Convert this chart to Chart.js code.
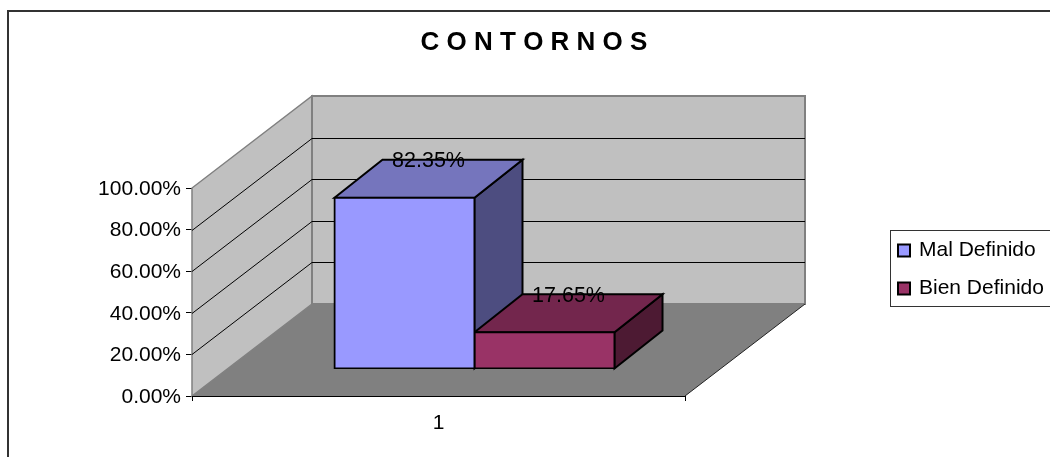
<!DOCTYPE html>
<html>
<head>
<meta charset="utf-8">
<title>Contornos</title>
<script src="https://cdn.jsdelivr.net/npm/chart.js@4/dist/chart.umd.min.js"></script>
<style>
html, body { margin: 0; padding: 0; background: #fff; }
#wrap { width: 1050px; height: 457px; }
</style>
</head>
<body>
<div id="wrap"><canvas id="chart" width="1050" height="457"></canvas></div>
<script>
var categories = ['1'];
var malDefinido = [82.35];
var bienDefinido = [17.65];
var yTicks = [0, 20, 40, 60, 80, 100];
var chartTitle = 'C O N T O R N O S';

var FONT = '"Liberation Sans", Arial, sans-serif';

// depth of the floor, and of one bar, in pixels
var floorDepth = { x: 120, y: -92 };
var barDepth = { x: 48, y: -38 };
// how far the bar fronts stand back from the front of the floor
var barShift = { x: 36, y: -27 };

function poly(ctx, pts, fill, stroke, lw) {
    ctx.beginPath();
    ctx.moveTo(pts[0][0], pts[0][1]);
    for (var i = 1; i < pts.length; i++) ctx.lineTo(pts[i][0], pts[i][1]);
    ctx.closePath();
    if (fill) { ctx.fillStyle = fill; ctx.fill(); }
    if (stroke) { ctx.strokeStyle = stroke; ctx.lineWidth = lw; ctx.stroke(); }
}

function drawWalls(chart) {
    var ctx = chart.ctx, area = chart.chartArea;
    var dx = floorDepth.x, dy = floorDepth.y;
    var l = area.left, r = area.right, t = area.top, b = area.bottom;

    poly(ctx, [[l, b], [l + dx, b + dy], [l + dx, t + dy], [l, t]], '#C0C0C0', '#808080', 1.5);
    poly(ctx, [[l + dx, b + dy], [r + dx, b + dy], [r + dx, t + dy], [l + dx, t + dy]], '#C0C0C0', '#808080', 2);
    poly(ctx, [[l, b], [r, b], [r + dx, b + dy], [l + dx, b + dy]], '#808080');

    // open edge of the floor
    ctx.strokeStyle = '#222';
    ctx.lineWidth = 1;
    ctx.beginPath();
    ctx.moveTo(r, b);
    ctx.lineTo(r + dx, b + dy);
    ctx.stroke();

    // grid lines run along the side wall, then along the back wall
    var y = chart.scales.y;
    ctx.strokeStyle = '#000';
    ctx.lineWidth = 1;
    yTicks.forEach(function (v) {
        if (v == 0 || v == 100) return;
        var py = Math.round(y.getPixelForValue(v)) + 0.5;
        ctx.beginPath();
        ctx.moveTo(l, py);
        ctx.lineTo(l + dx, py + dy);
        ctx.lineTo(r + dx, py + dy);
        ctx.stroke();
    });
}

// top and side of each bar; the front comes from the bar element itself
function drawBarSides(chart) {
    var ctx = chart.ctx;
    var dx = barDepth.x, dy = barDepth.y;
    chart.data.datasets.forEach(function (ds, i) {
        chart.getDatasetMeta(i).data.forEach(function (bar) {
            var p = bar.getProps(['x', 'y', 'base', 'width'], true);
            var l = p.x - p.width / 2 + barShift.x;
            var r = p.x + p.width / 2 + barShift.x;
            var t = p.y + barShift.y;
            var b = p.base + barShift.y;
            poly(ctx, [[r, t], [r + dx, t + dy], [r + dx, b + dy], [r, b]], ds.sideColor, '#000', 2);
            poly(ctx, [[l, t], [l + dx, t + dy], [r + dx, t + dy], [r, t]], ds.topColor, '#000', 2);
        });
    });
}

function drawValueLabels(chart) {
    var ctx = chart.ctx;
    ctx.fillStyle = '#000';
    ctx.font = '21.5px ' + FONT;
    ctx.textAlign = 'center';
    ctx.textBaseline = 'middle';
    chart.data.datasets.forEach(function (ds, i) {
        chart.getDatasetMeta(i).data.forEach(function (bar, j) {
            var p = bar.getProps(['x', 'y'], true);
            ctx.fillText(ds.data[j].toFixed(2) + '%',
                p.x + barShift.x + barDepth.x / 2,
                p.y + barShift.y + barDepth.y + 1.5);
        });
    });
}

function drawTitle(chart) {
    var ctx = chart.ctx;
    ctx.fillStyle = '#000';
    ctx.font = 'bold 26px ' + FONT;
    ctx.textAlign = 'center';
    ctx.textBaseline = 'middle';
    ctx.fillText(chartTitle, 534, 43);
}

function drawLegend(chart) {
    var ctx = chart.ctx;
    ctx.fillStyle = '#fff';
    ctx.fillRect(890.5, 230.5, 160, 76);
    ctx.strokeStyle = '#333';
    ctx.lineWidth = 1;
    ctx.strokeRect(890.5, 230.5, 160, 76);
    ctx.font = '21px ' + FONT;
    ctx.textAlign = 'left';
    ctx.textBaseline = 'middle';
    chart.data.datasets.forEach(function (ds, i) {
        var cy = 250.5 + i * 38;
        ctx.fillStyle = ds.backgroundColor;
        ctx.fillRect(898, cy - 6, 12, 12);
        ctx.strokeStyle = '#000';
        ctx.lineWidth = 2;
        ctx.strokeRect(898, cy - 6, 12, 12);
        ctx.fillStyle = '#000';
        ctx.fillText(ds.label, 919, cy);
    });
}

var decorPlugin = {
    id: 'decor',
    beforeDraw: function (chart) {
        var ctx = chart.ctx;
        ctx.save();
        // outer frame of the chart, open at the page edge
        ctx.strokeStyle = '#333';
        ctx.lineWidth = 2;
        ctx.beginPath();
        ctx.moveTo(8, 457);
        ctx.lineTo(8, 11);
        ctx.lineTo(1050, 11);
        ctx.stroke();
        drawTitle(chart);
        drawLegend(chart);
        ctx.restore();
    },
    beforeDatasetsDraw: function (chart) {
        var ctx = chart.ctx;
        ctx.save();
        drawWalls(chart);
        drawBarSides(chart);
        ctx.restore();
        // the axis line sits over the floor edge
        var area = chart.chartArea;
        ctx.save();
        ctx.strokeStyle = '#000';
        ctx.lineWidth = 1;
        ctx.beginPath();
        ctx.moveTo(area.left, Math.round(area.bottom) + 0.5);
        ctx.lineTo(area.right, Math.round(area.bottom) + 0.5);
        ctx.stroke();
        ctx.restore();
    },
    beforeDatasetDraw: function (chart) {
        chart.ctx.save();
        chart.ctx.translate(barShift.x, barShift.y);
    },
    afterDatasetDraw: function (chart) {
        chart.ctx.restore();
    },
    afterDatasetsDraw: function (chart) {
        var ctx = chart.ctx;
        ctx.save();
        drawValueLabels(chart);
        ctx.restore();
    }
};

new Chart(document.getElementById('chart'), {
    type: 'bar',
    data: {
        labels: categories,
        datasets: [
            { label: 'Mal Definido', data: malDefinido, backgroundColor: '#9999FF', topColor: '#7575BD', sideColor: '#4D4D80', borderColor: '#000', borderWidth: 2, borderSkipped: false, inflateAmount: 1 },
            { label: 'Bien Definido', data: bienDefinido, backgroundColor: '#993366', topColor: '#73264D', sideColor: '#4D1A33', borderColor: '#000', borderWidth: 2, borderSkipped: false, inflateAmount: 1 }
        ]
    },
    plugins: [decorPlugin],
    options: {
        responsive: false,
        animation: false,
        categoryPercentage: 0.568,
        barPercentage: 1,
        layout: { padding: { left: 0, right: 365, top: 188, bottom: 0 } },
        plugins: {
            legend: { display: false },
            title: { display: false },
            tooltip: { enabled: false }
        },
        scales: {
            x: {
                grid: { display: true, drawOnChartArea: false, drawTicks: true, tickLength: 5, color: '#000', offset: true },
                border: { color: '#000' },
                ticks: { color: '#000', font: { family: FONT, size: 21 }, padding: 10, maxRotation: 0 },
                afterFit: function (scale) { scale.height = 61; }
            },
            y: {
                min: 0,
                max: 100,
                grid: { display: true, drawOnChartArea: false, drawTicks: true, tickLength: 6, color: '#000' },
                border: { color: '#808080' },
                ticks: {
                    color: '#000',
                    stepSize: 20,
                    font: { family: FONT, size: 21 },
                    padding: 5,
                    labelOffset: 1,
                    callback: function (v) { return v.toFixed(2) + '%'; }
                },
                afterFit: function (scale) { scale.width = 192; }
            }
        }
    }
});
</script>
</body>
</html>
